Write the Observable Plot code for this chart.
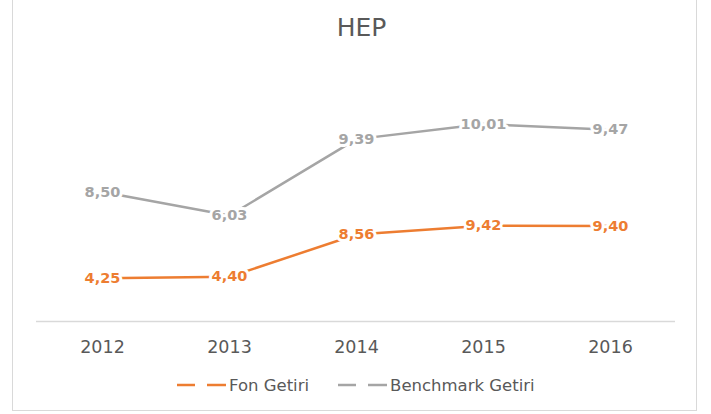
<!DOCTYPE html>
<html>
<head>
<meta charset="utf-8">
<script src="https://cdn.jsdelivr.net/npm/d3@7"></script>
<script src="https://cdn.jsdelivr.net/npm/@observablehq/plot@0.6"></script>
<style>
  html, body { margin: 0; padding: 0; background: #fff; }
  #wrap { position: relative; width: 711px; height: 414px; overflow: hidden; font-family: "DejaVu Sans", sans-serif; }
  #frame { position: absolute; left: 12px; top: -2px; width: 685px; height: 413px; border: 1px solid #D9D9D9; border-top: none; box-sizing: border-box; }
  #title { position: relative; height: 56px; line-height: 56px; width: 711px; box-sizing: border-box; padding-left: 12px; text-align: center; font-size: 25px; color: #595959; }
  #chart { position: relative; height: 305px; }
  #legend { position: relative; height: 48px; display: flex; align-items: center; padding-left: 177px; font-size: 16.5px; color: #595959; }
  .item { display: flex; align-items: center; }
  .item svg { margin-right: 3px; }
  .item + .item { margin-left: 29px; }
</style>
</head>
<body>
<div id="wrap">
  <div id="frame"></div>
  <div id="title">HEP</div>
  <div id="chart"></div>
  <div id="legend"></div>
</div>
<script>
const years = ["2012", "2013", "2014", "2015", "2016"];
const fonGetiri = [4.25, 4.40, 8.56, 9.42, 9.40];
const benchmarkGetiri = [8.50, 6.03, 9.39, 10.01, 9.47];
const seriesNames = ["Fon Getiri", "Benchmark Getiri"];
const seriesColors = ["#ED7D31", "#A5A5A5"];

const seriesValues = [fonGetiri, benchmarkGetiri];
const rows = seriesNames.flatMap((name, i) =>
  years.map((year, j) => ({ year, series: name, value: seriesValues[i][j] }))
);
const fmt = v => v.toFixed(2).replace(".", ",");

const chart = Plot.plot({
  width: 711,
  height: 305,
  marginLeft: 36,
  marginRight: 36,
  marginTop: 11,
  marginBottom: 40,
  style: { fontFamily: "DejaVu Sans", background: "transparent" },
  x: { type: "point", domain: years, range: [101.5, 609.5], padding: 0, label: null },
  y: { domain: [0, 25], axis: null },
  color: { domain: seriesNames, range: seriesColors },
  marks: [
    Plot.ruleY([0], { stroke: "#D9D9D9", strokeWidth: 1.5 }),
    Plot.axisX({ tickSize: 0, tickPadding: 19.5, fontSize: 17.5, color: "#595959", label: null }),
    Plot.lineY(rows, Plot.stackY2({ x: "year", y: "value", z: "series", stroke: "series", strokeWidth: 2.5 })),
    Plot.text(rows, Plot.stackY2({
      x: "year", y: "value", z: "series",
      text: d => fmt(d.value),
      fill: "series", stroke: "white", strokeWidth: 6, paintOrder: "stroke",
      fontWeight: "bold", fontSize: 14.5
    }))
  ]
});
document.getElementById("chart").appendChild(chart);

const legend = document.getElementById("legend");
seriesNames.forEach((name, i) => {
  const item = document.createElement("div");
  item.className = "item";
  item.innerHTML =
    `<svg width="49" height="10"><line x1="0" x2="18" y1="5" y2="5" stroke="${seriesColors[i]}" stroke-width="2.5"/>` +
    `<line x1="30" x2="49" y1="5" y2="5" stroke="${seriesColors[i]}" stroke-width="2.5"/></svg><span>${name}</span>`;
  legend.appendChild(item);
});
</script>
</body>
</html>
